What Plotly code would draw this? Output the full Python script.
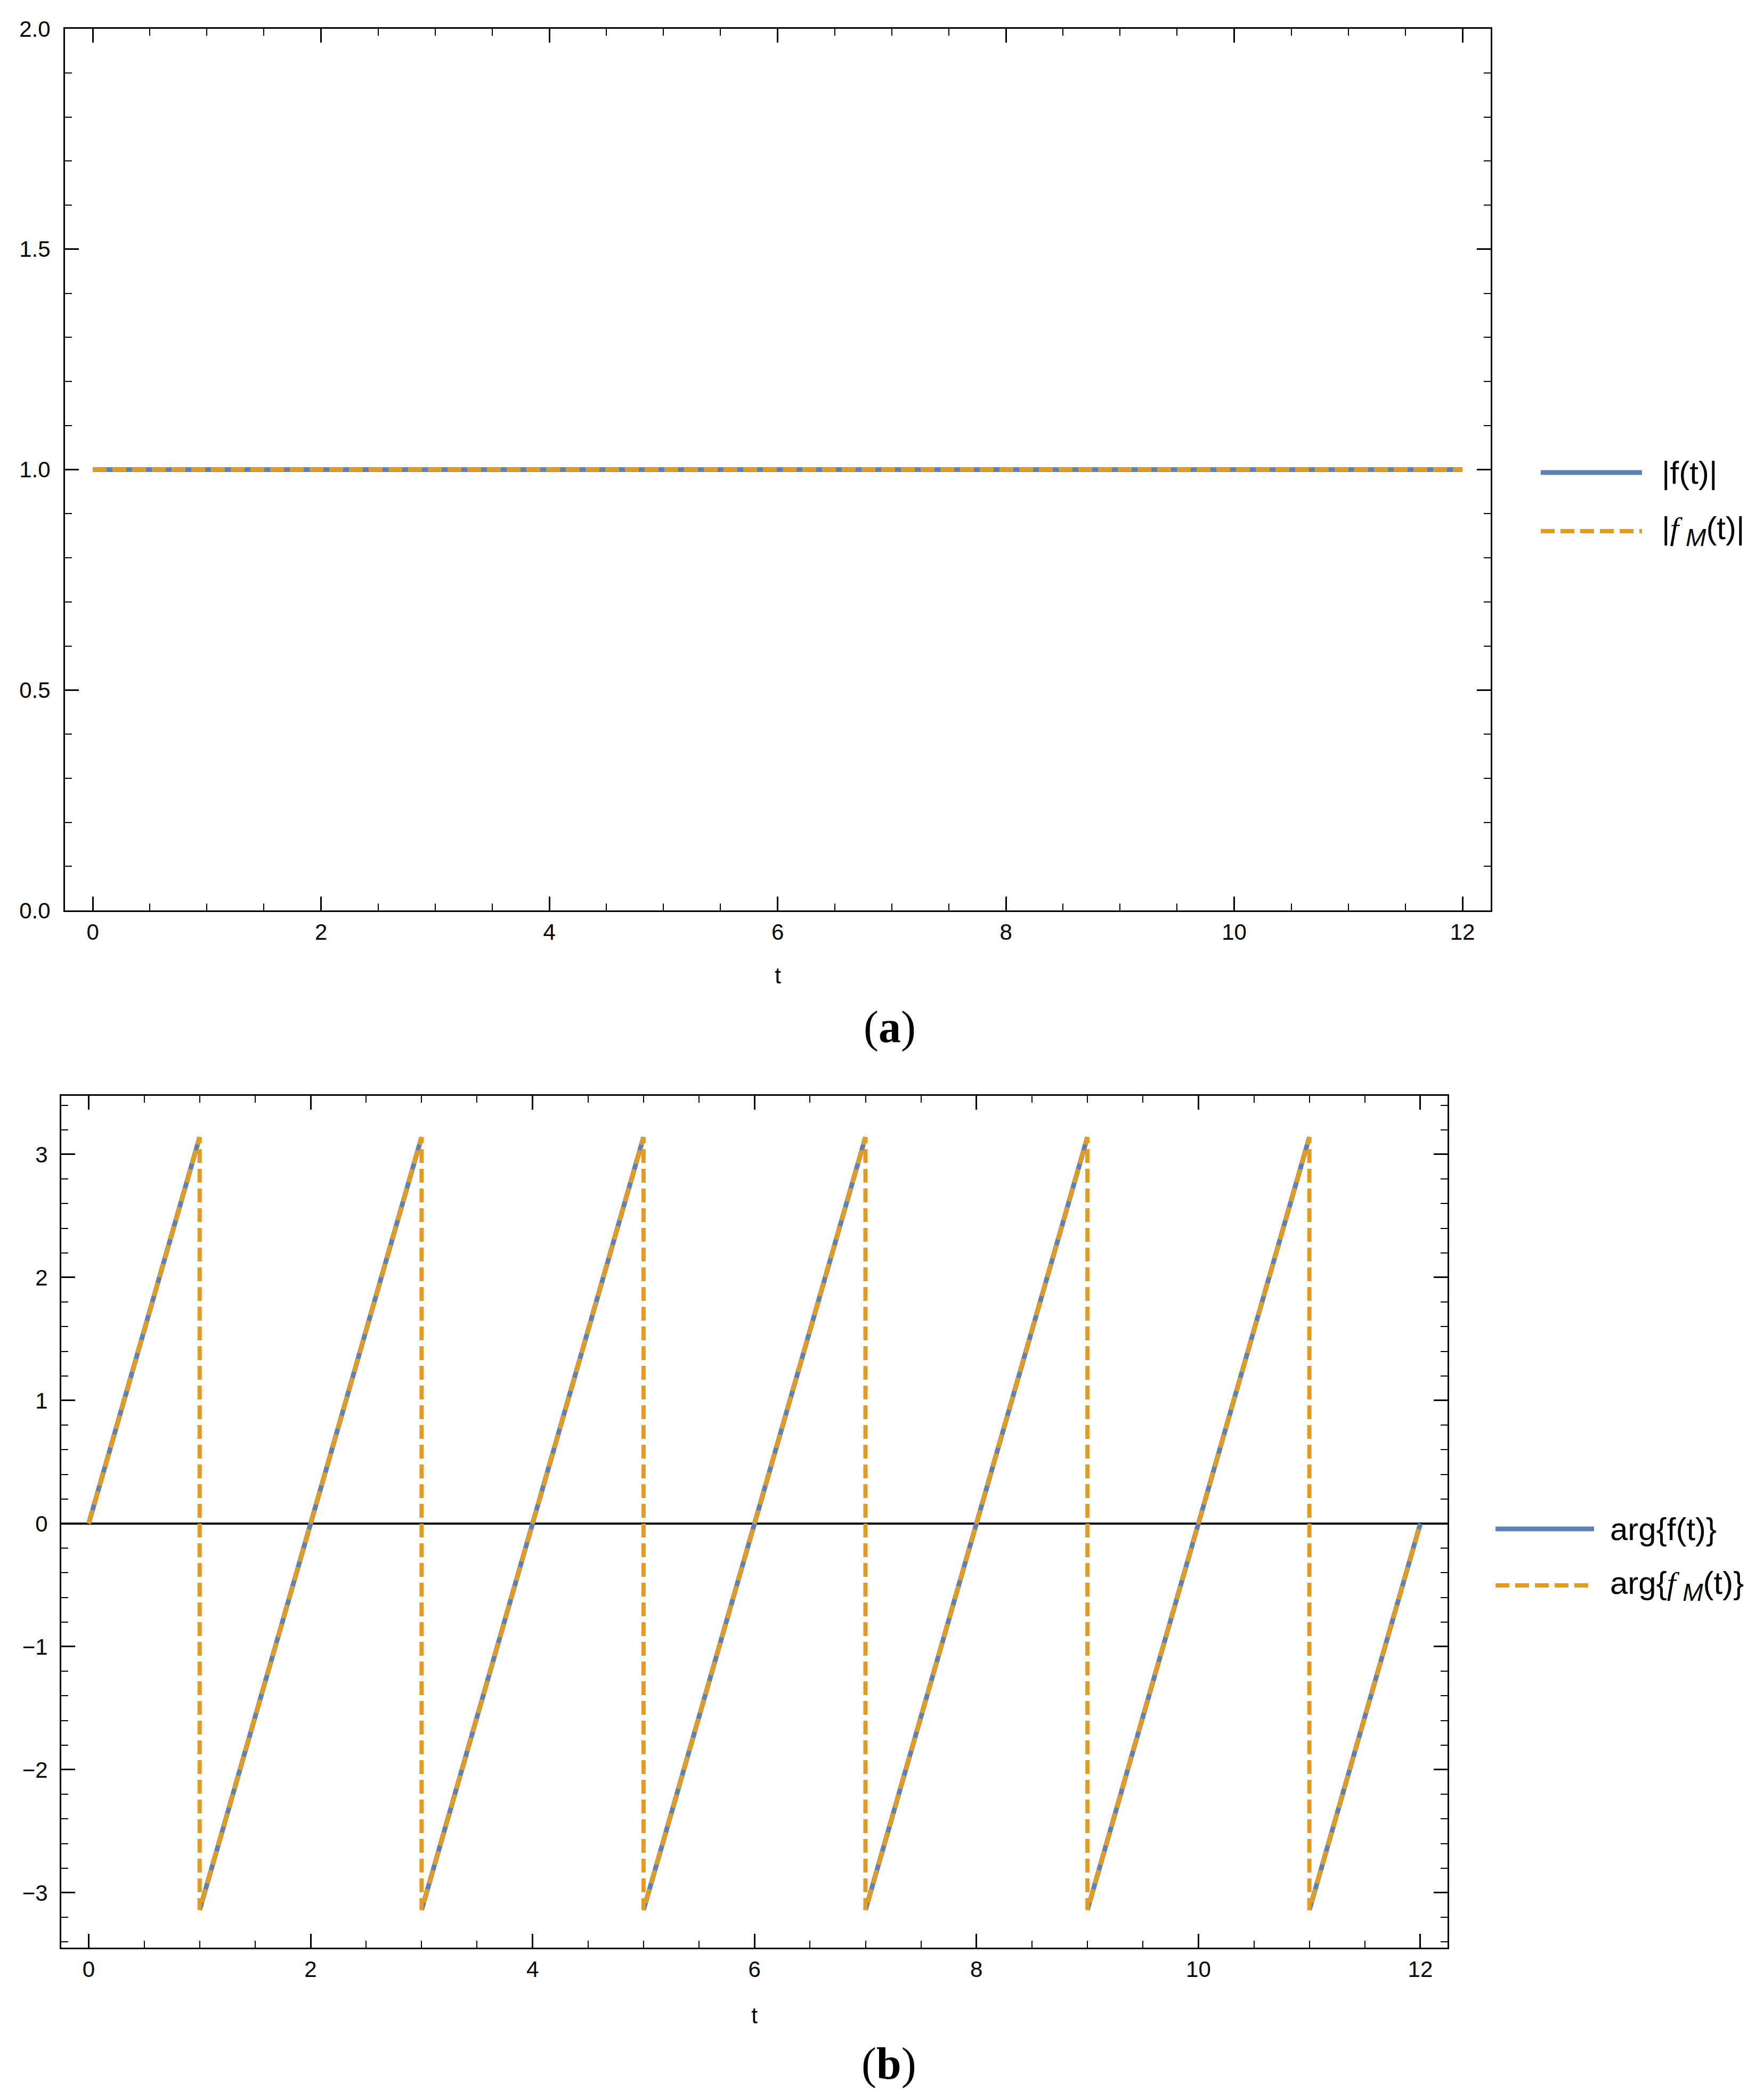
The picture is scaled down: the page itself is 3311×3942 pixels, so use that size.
import plotly.graph_objs as go

W, H = 3311, 3942
BODY = 8  # default page margin around the plot div

# panel (a): modulus
t_abs = [0, 12]
abs_f = [1, 1]
abs_fm = [1, 1]

# panel (b): phase, breakpoints of the sawtooth
arg_t = [0, 1, 1, 3, 3, 5, 5, 7, 7, 9, 9, 11, 11, 12]
arg_f = [0, 3.14, -3.14, 3.14, -3.14, 3.14, -3.14, 3.14, -3.14, 3.14, -3.14, 3.14, -3.14, 0]
arg_fm = [0, 3.14, -3.14, 3.14, -3.14, 3.14, -3.14, 3.14, -3.14, 3.14, -3.14, 3.14, -3.14, 0]

fM = ("<span style='font-family:Liberation Serif'><i>f</i></span>"
      "<sub><span style='font-size:46px'><i> M</i></span></sub>")
legend_a = ["|f(t)|", "|" + fM + "(t)|"]
legend_b = ["arg{f(t)}", "arg{" + fM + "(t)}"]

BLUE = "#5E81B5"
ORANGE = "#E19C24"
DASH = "26px,11px"


def px(x):
    return (x - BODY) / W


def py(y):
    return 1 - (y - BODY) / H


# blue phase line is drawn without the vertical jumps
blue_t, blue_y = [], []
for i in range(len(arg_t)):
    if i > 0 and arg_t[i] == arg_t[i - 1]:
        blue_t.append(None)
        blue_y.append(None)
    blue_t.append(arg_t[i])
    blue_y.append(arg_f[i])

fig = go.Figure()
fig.add_trace(go.Scatter(x=t_abs, y=abs_f, mode="lines", line=dict(color=BLUE, width=9),
                         xaxis="x", yaxis="y", showlegend=False))
fig.add_trace(go.Scatter(x=t_abs, y=abs_fm, mode="lines", line=dict(color=ORANGE, width=8, dash=DASH),
                         xaxis="x", yaxis="y", showlegend=False))
fig.add_trace(go.Scatter(x=blue_t, y=blue_y, mode="lines", line=dict(color=BLUE, width=9),
                         xaxis="x2", yaxis="y2", showlegend=False, connectgaps=False))
fig.add_trace(go.Scatter(x=arg_t, y=arg_fm, mode="lines", line=dict(color=ORANGE, width=8, dash=DASH),
                         xaxis="x2", yaxis="y2", showlegend=False))

tickfont = dict(family="Liberation Sans", size=42, color="black")
frame = dict(showline=True, linecolor="black", linewidth=3, mirror="ticks",
             ticks="inside", ticklen=26, tickwidth=3, tickcolor="black",
             showgrid=False, zeroline=False, tickfont=tickfont, automargin=False)

fig.update_layout(
    width=W, height=H, margin=dict(l=0, r=0, t=0, b=0, pad=0),
    paper_bgcolor="white", plot_bgcolor="white",
    font=dict(family="Liberation Sans", size=42, color="black"),
    xaxis=dict(frame, domain=[px(122), px(2798)], range=[-0.243, 12.247], anchor="y",
               dtick=2, tick0=0, ticklabelstandoff=2,
               minor=dict(dtick=0.5, ticklen=13, tickwidth=2, ticks="inside", tickcolor="black"),
               title=dict(text="t", font=tickfont, standoff=45)),
    yaxis=dict(frame, domain=[py(1709), py(54)], range=[0, 2], anchor="x",
               dtick=0.5, tick0=0, tickformat=".1f", ticklabelstandoff=16,
               minor=dict(dtick=0.1, ticklen=13, tickwidth=2, ticks="inside", tickcolor="black")),
    xaxis2=dict(frame, domain=[px(115), px(2717)], range=[-0.247, 12.245], anchor="y2",
                dtick=2, tick0=0, ticklabelstandoff=2,
                minor=dict(dtick=0.5, ticklen=13, tickwidth=2, ticks="inside", tickcolor="black"),
                title=dict(text="t", font=tickfont, standoff=50)),
    yaxis2=dict(frame, domain=[py(3656), py(2057)], range=[-3.446, 3.476], anchor="x2",
                dtick=1, tick0=0, ticklabelstandoff=14,
                zeroline=True, zerolinecolor="black", zerolinewidth=4,
                minor=dict(dtick=0.2, ticklen=13, tickwidth=2, ticks="inside", tickcolor="black")),
)

# legends drawn as swatches + labels
shapes = []
annotations = []
legend_font = dict(family="Liberation Sans", size=60, color="black")
for (x0, x1, xt, ys, labels) in [(2892, 3082, 3117, [887, 997], legend_a),
                                  (2807, 2992, 3020, [2870, 2976], legend_b)]:
    for k, (yy, lab) in enumerate(zip(ys, labels)):
        shapes.append(dict(type="line", xref="paper", yref="paper",
                           x0=px(x0), x1=px(x1), y0=py(yy), y1=py(yy),
                           line=dict(color=BLUE if k == 0 else ORANGE,
                                     width=9 if k == 0 else 8,
                                     dash="solid" if k == 0 else DASH)))
        annotations.append(dict(xref="paper", yref="paper", x=px(xt), y=py(yy),
                                xanchor="left", yanchor="middle", showarrow=False,
                                text=lab, font=legend_font))

sub_font = dict(family="Liberation Serif", size=84, color="black")
annotations.append(dict(xref="paper", yref="paper", x=px(1670), y=py(1928), text="(<b>a</b>)",
                        showarrow=False, xanchor="center", yanchor="middle", font=sub_font))
annotations.append(dict(xref="paper", yref="paper", x=px(1669), y=py(3874), text="(<b>b</b>)",
                        showarrow=False, xanchor="center", yanchor="middle", font=sub_font))

fig.update_layout(shapes=shapes, annotations=annotations)
fig.write_html("out.html")
